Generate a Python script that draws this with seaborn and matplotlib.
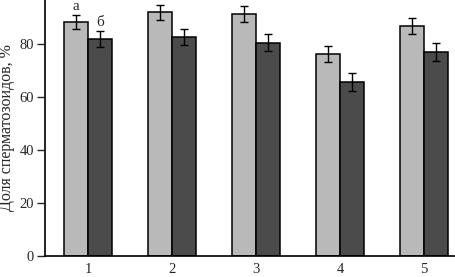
import pandas as pd
import matplotlib
matplotlib.use("Agg")
import matplotlib.pyplot as plt
import seaborn as sns

groups = ["1", "2", "3", "4", "5"]
series = ["а", "б"]
light_vals = [88.4, 92.0, 91.2, 76.2, 86.9]
dark_vals = [82.0, 82.5, 80.5, 65.8, 76.9]
light_err = [2.7, 2.9, 3.0, 3.0, 3.0]
dark_err = [3.0, 3.0, 3.2, 3.4, 3.3]
yticks = [0, 20, 40, 60, 80]

df = pd.DataFrame({
    "group": groups * 2,
    "series": [series[0]] * 5 + [series[1]] * 5,
    "value": light_vals + dark_vals,
    "err": light_err + dark_err,
})

sns.set_style("white")
plt.rcParams["font.family"] = ["Liberation Serif", "DejaVu Serif"]

fig = plt.figure(figsize=(4.56, 2.77), dpi=100)
ax = fig.add_axes([0.099, 0.076, 0.901, 0.924])

sns.barplot(data=df, x="group", y="value", hue="series", order=groups,
            hue_order=series, palette=["#b9b9b9", "#4b4b4b"], errorbar=None,
            width=0.57, edgecolor="black", linewidth=1.1, legend=False, ax=ax)

# error bars on top of each bar, in the same order as the patches
bars = [p for p in ax.patches if p.get_height() > 0]
errs = light_err + dark_err
for p, e in zip(bars, errs):
    xc = p.get_x() + p.get_width() / 2
    ax.errorbar(xc, p.get_height(), yerr=e, fmt="none", ecolor="black",
                elinewidth=1.0, capsize=3, capthick=1.0)

# letters above the first group
for p, e, lab in zip([bars[0], bars[5]], [light_err[0], dark_err[0]], series):
    xc = p.get_x() + p.get_width() / 2
    ax.text(xc, p.get_height() + e + 0.5, lab, ha="center", va="bottom", fontsize=11)

ax.set_xlim(-0.51, 4.38)
ax.set_ylim(0, 96.6)
ax.set_yticks(yticks)
ax.set_xlabel("")
ax.set_ylabel("Доля сперматозоидов, %", fontsize=11.5, labelpad=3)
ax.tick_params(axis="y", direction="out", length=6, width=1, labelsize=10.5, left=True, pad=2)
ax.tick_params(axis="x", length=0, labelsize=10.5, pad=5)
sns.despine(ax=ax)
for s in ["left", "bottom"]:
    ax.spines[s].set_color("black")
    ax.spines[s].set_linewidth(1.2)

fig.savefig("out.png", dpi=100)
